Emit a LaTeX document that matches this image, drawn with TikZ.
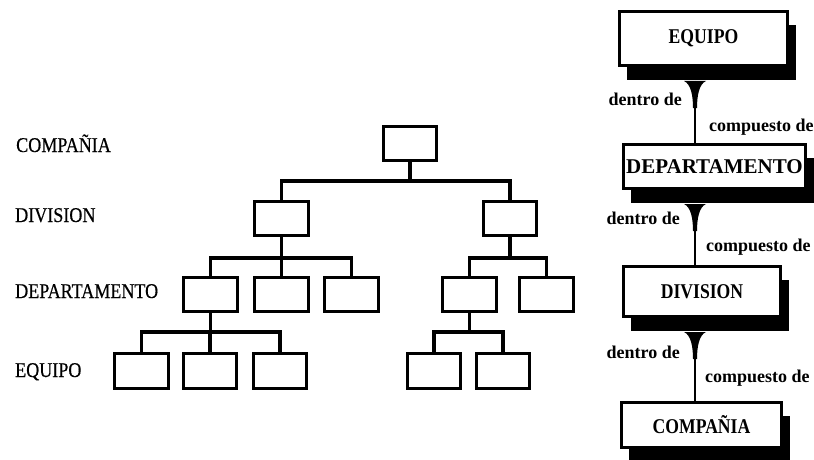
\documentclass[tikz,border=0pt]{standalone}
\usepackage{fontspec}
\setmainfont{Liberation Serif}
\newfontfamily\lvlfont[FakeStretch=0.86,FakeBold=0.4]{Liberation Serif}
\newfontfamily\entfont[FakeStretch=0.84]{Liberation Serif}
\usetikzlibrary{calc,shadows}
\begin{document}
\begin{tikzpicture}[x=1pt,y=-1pt,
  orgbox/.style={draw, line width=3.1pt, minimum width=53.5pt, minimum height=34.5pt, inner sep=0pt},
  bus/.style={line width=3.1pt},
  level/.style={anchor=base west, inner sep=0pt, font=\lvlfont\fontsize{21}{22}\selectfont},
  entity/.style={draw, line width=2.8pt, fill=white, inner sep=0pt,
    font=\entfont\bfseries\fontsize{21}{22}\selectfont,
    drop shadow={shadow xshift=8pt, shadow yshift=-14pt, opacity=1, fill=black}},
  rel/.style={inner sep=0pt, font=\bfseries\fontsize{18}{20}\selectfont},
  link/.style={line width=2.6pt}
]
\useasboundingbox[fill=white] (0,0) rectangle (814,460);

% level captions
\node[level] (lc) at (16,152) {COMPAÑIA};
\node[level] (ld) at (15,222) {DIVISION};
\node[level] (lp) at (15,298) {DEPARTAMENTO};
\node[level] (le) at (15,377) {EQUIPO};

% organisation tree
\node[orgbox] (c)  at (410,143.5) {};
\node[orgbox] (d1) at (281.5,218.5) {};
\node[orgbox] (d2) at (510,218.5) {};
\node[orgbox] (p1) at (210.5,294.5) {};
\node[orgbox] (p2) at (281.5,294.5) {};
\node[orgbox] (p3) at (351.5,294.5) {};
\node[orgbox] (p4) at (469.5,294.5) {};
\node[orgbox] (p5) at (546.5,294.5) {};
\node[orgbox] (e1) at (141.5,371) {};
\node[orgbox] (e2) at (210,371) {};
\node[orgbox] (e3) at (280,371) {};
\node[orgbox] (e4) at (434,371) {};
\node[orgbox] (e5) at (503,371) {};

% heights of the horizontal buses
\coordinate (y1) at (0,181);
\coordinate (y2) at (0,258);
\coordinate (y3) at (0,332);

\draw[bus] (c.south) -- (c.south |- y1);
\draw[bus] (d1.north) |- (c.south |- y1) -| (d2.north);

\draw[bus] (d1.south) -- (d1.south |- y2);
\draw[bus] (p1.north) |- (d1.south |- y2) -| (p3.north);
\draw[bus] (p2.north) -- (p2.north |- y2);

\draw[bus] (d2.south) -- (d2.south |- y2);
\draw[bus] (p4.north) |- (d2.south |- y2) -| (p5.north);

\draw[bus] (p1.south) -- (p1.south |- y3);
\draw[bus] (e1.north) |- (p1.south |- y3) -| (e3.north);
\draw[bus] (e2.north) -- (e2.north |- y3);

\draw[bus] (p4.south) -- (p4.south |- y3);
\draw[bus] (e4.north) |- (p4.south |- y3) -| (e5.north);

% entity chain
\node[entity, minimum width=168.2pt, minimum height=54.2pt] (b1) at (703.5,38.5) {EQUIPO};
\node[entity, minimum width=182.2pt, minimum height=44.2pt] (b2) at (714.5,166.5)
  {\addfontfeature{FakeStretch=1.0}DEPARTAMENTO};
\node[entity, minimum width=157.2pt, minimum height=50.2pt] (b3) at (702,291.5) {DIVISION};
\node[entity, minimum width=160.2pt, minimum height=45.2pt] (b4) at (701.5,425) {COMPAÑIA};

\coordinate (axis) at (695,0);
\foreach \a/\b in {b1/b2,b2/b3,b3/b4}{
  \draw[link] ($(\a.south -| axis)+(0,14)$) -- (\b.north -| axis);
  \fill ($(\a.south -| axis)+(-11,14)$)
    .. controls +(7,3) and +(0,-12) .. ++(9,27) -- ++(4,0)
    .. controls +(0,-12) and +(-7,3) .. ++(9,-27) -- cycle;
}

% relation labels
\node[rel, anchor=base east] (r1) at (682,105) {dentro de};
\node[rel, anchor=base west] (s1) at (709,131) {compuesto de};
\node[rel, anchor=base east] (r2) at (680,224) {dentro de};
\node[rel, anchor=base west] (s2) at (706,251) {compuesto de};
\node[rel, anchor=base east] (r3) at (680,358) {dentro de};
\node[rel, anchor=base west] (s3) at (705,382) {compuesto de};
\end{tikzpicture}
\end{document}
